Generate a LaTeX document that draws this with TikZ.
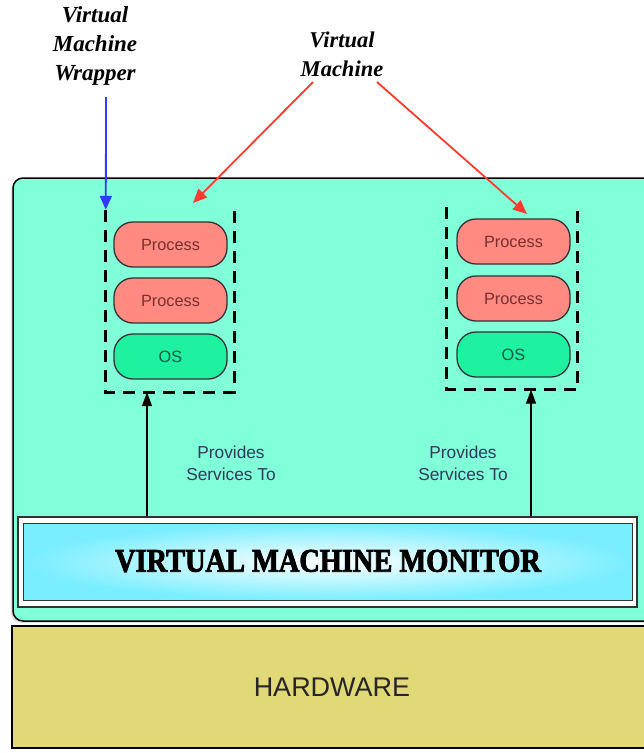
\documentclass[tikz,border=0pt]{standalone}
\usepackage{fontspec}
\setmainfont{Liberation Serif}
\newfontfamily\lsans{Liberation Sans}
\newfontfamily\vmmfont[FakeStretch=0.86,FakeBold=2.5]{Liberation Serif Bold}
\usetikzlibrary{arrows.meta,shadows}

\definecolor{vmteal}{HTML}{80FFD9}
\definecolor{hwyellow}{HTML}{E1D877}
\definecolor{procred}{HTML}{FF8A82}
\definecolor{osgreen}{HTML}{1EF2A0}
\definecolor{vmmcyan}{HTML}{78EEFF}
\definecolor{labelred}{HTML}{FF3B2F}
\definecolor{labelblue}{HTML}{2F3BFF}
\definecolor{proctext}{HTML}{7A2E2E}
\definecolor{ostext}{HTML}{0E5547}
\definecolor{svctext}{HTML}{2E3A5C}

\begin{document}
\begin{tikzpicture}[x=1pt,y=-1pt,
  pill/.style={draw=black!80, line width=1.3pt, rounded corners=19pt,
    minimum width=113pt, minimum height=45pt, inner sep=0pt,
    font=\lsans\fontsize{16.3}{19}\selectfont},
  procbox/.style={pill, fill=procred, text=proctext},
  osbox/.style={pill, fill=osgreen, text=ostext},
  wrapbox/.style={inner sep=0pt, minimum width=#1, minimum height=182pt},
  wrapdash/.style={line width=3pt, dash pattern=on 12pt off 8pt},
  svcarrow/.style={line width=1.3pt, -{Triangle[width=10pt,length=14pt]}},
  svclabel/.style={align=center, text=svctext, font=\lsans\fontsize{17.3}{22}\selectfont},
  toplabel/.style={align=center, font=\fontsize{#1}{29}\selectfont\bfseries\itshape},
  callout/.style={line width=1.8pt, -{Triangle[width=12pt,length=14pt]}}
]
\useasboundingbox (0,0) rectangle (644,753);
\clip (0,0) rectangle (644,753);
\fill[white] (0,0) rectangle (644,753);

% host machine layer holding the virtual machines
\draw[line width=1.5pt, fill=vmteal, rounded corners=10pt,
  drop shadow={shadow xshift=-2pt, shadow yshift=-2pt, opacity=0.25}]
  (13,178) rectangle (670,621);

% hardware layer
\node[draw=black, line width=2pt, fill=hwyellow, minimum width=658pt,
  minimum height=122pt, inner sep=0pt] (hw) at (341,687) {};
\node[font=\lsans\fontsize{27}{32}\selectfont, text=black!85] (hwlabel) at (332,687) {HARDWARE};

% virtual machine monitor with double frame and radial shading
\node[draw=black!80, line width=1.2pt, fill=white, minimum width=619pt,
  minimum height=90pt, inner sep=0pt] (vmm) at (327.5,562) {};
\shade[inner color=white, outer color=vmmcyan, draw=black!80, line width=1.2pt]
  ([shift={(6,7)}]vmm.north west) rectangle ([shift={(-5,-7)}]vmm.south east);
\node[font=\vmmfont\fontsize{33}{38}\selectfont] (vmmlabel) at (328,561) {VIRTUAL MACHINE MONITOR};

% left virtual machine
\node[wrapbox=128pt] (wrapL) at (170,301) {};
\draw[wrapdash] (wrapL.north west) -- (wrapL.south west) -- (wrapL.south east) -- (wrapL.north east);
\node[procbox] (procL1) at (170.5,244.5) {Process};
\node[procbox] (procL2) at (170.5,300.5) {Process};
\node[osbox] (osL) at (170.5,356.5) {OS};

% right virtual machine
\node[wrapbox=130pt] (wrapR) at (512,298.5) {};
\draw[wrapdash] (wrapR.north west) -- (wrapR.south west) -- (wrapR.south east) -- (wrapR.north east);
\node[procbox] (procR1) at (513.5,241.5) {Process};
\node[procbox] (procR2) at (513.5,298.5) {Process};
\node[osbox] (osR) at (513.5,354.5) {OS};

% monitor provides services to each virtual machine
\coordinate (svcL) at (147,0);
\coordinate (svcR) at (531,0);
\draw[svcarrow] (vmm.north -| svcL) -- (wrapL.south -| svcL);
\draw[svcarrow] (vmm.north -| svcR) -- (wrapR.south -| svcR);
\node[svclabel] (svcLtext) at (231,463) {Provides\\Services To};
\node[svclabel] (svcRtext) at (463,463) {Provides\\Services To};

% callout labels
\node[toplabel=23] (wrapLabel) at (95,46) {Virtual\\Machine\\Wrapper};
\node[toplabel=22.5] (vmLabel) at (342,54) {Virtual\\Machine};
\coordinate (wrapFrom) at (106,97);
\draw[callout, labelblue] (wrapFrom) -- (wrapL.north west);
\coordinate (vmFromL) at (313,82);
\coordinate (vmFromR) at (377,82);
\coordinate (vmTipL) at (193,203);
\coordinate (vmTipR) at (527,214);
\draw[callout, labelred] (vmFromL) -- (vmTipL);
\draw[callout, labelred] (vmFromR) -- (vmTipR);
\end{tikzpicture}
\end{document}
